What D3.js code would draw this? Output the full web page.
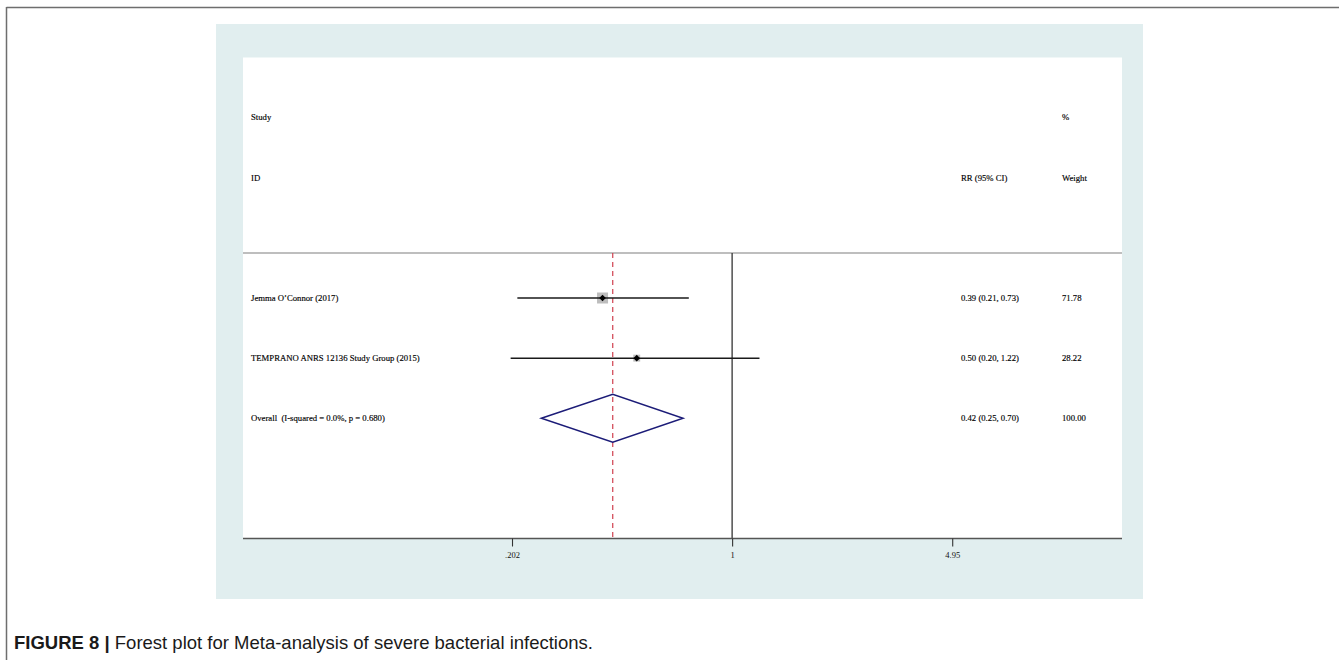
<!DOCTYPE html>
<html>
<head>
<meta charset="utf-8">
<script src="https://cdn.jsdelivr.net/npm/d3@7"></script>
<style>
  html, body { margin: 0; padding: 0; background: #fff; }
  svg { display: block; }
  text { white-space: pre; }
</style>
</head>
<body>
<svg id="chart" width="1339" height="660"></svg>
<script>
// Study rows of the forest plot
const studies = ["Jemma O\u2019Connor (2017)", "TEMPRANO ANRS 12136 Study Group (2015)"];
const rr = [0.39, 0.50];
const lower = [0.21, 0.20];
const upper = [0.73, 1.22];
const weights = [71.78, 28.22];

// Pooled estimate
const overallLabel = "Overall  (I-squared = 0.0%, p = 0.680)";
const overall = { rr: 0.42, lower: 0.25, upper: 0.70, weight: 100.00 };

// Axis ticks (log scale)
const tickValues = [0.202, 1, 4.95];
const tickLabels = [".202", "1", "4.95"];
const xDomain = [0.0286, 17.0];

const caption = "Forest plot for Meta-analysis of severe bacterial infections.";

const svg = d3.select("#chart");
const serif = "'Liberation Serif', 'Times New Roman', serif";

// page frame
svg.append("line").attr("x1", 6.5).attr("x2", 1339).attr("y1", 7.5).attr("y2", 7.5)
  .attr("stroke", "#6e6e6e").attr("stroke-width", 1.5);
svg.append("line").attr("x1", 6.5).attr("x2", 6.5).attr("y1", 7).attr("y2", 660)
  .attr("stroke", "#6e6e6e").attr("stroke-width", 1.5);

// graph region and plot region
const plotLeft = 243, plotRight = 1122;
const x = d3.scaleLog().domain(xDomain).range([plotLeft, plotRight]);
const y = d3.scaleLinear().domain([-1, 7]).range([57.5, 538.5]);

svg.append("rect").attr("x", 216).attr("y", 24).attr("width", 1143 - 216).attr("height", 599 - 24)
  .attr("fill", "#e1eeef");
svg.append("rect").attr("x", plotLeft).attr("y", y(-1)).attr("width", plotRight - plotLeft)
  .attr("height", y(7) - y(-1)).attr("fill", "#ffffff");

const colStudy = 251, colRR = 961, colW = 1062;
const fs = 8.7;

function txt(xp, yp, s, opts = {}) {
  return svg.append("text").attr("x", xp).attr("y", yp).attr("dy", "0.32em")
    .attr("font-family", serif).attr("font-size", opts.size || fs)
    .attr("font-weight", opts.weight || "normal")
    .attr("fill", "#000").attr("stroke", "#000").attr("stroke-width", 0.15)
    .attr("text-anchor", opts.anchor || "start").text(s);
}

// headers
txt(colStudy, y(0), "Study");
txt(colStudy, y(1), "ID");
txt(colRR, y(1), "RR (95% CI)");
txt(colW, y(0), "%");
txt(colW, y(1), "Weight");

// header separator
svg.append("line").attr("x1", plotLeft).attr("x2", plotRight).attr("y1", y(2.25)).attr("y2", y(2.25))
  .attr("stroke", "#a8a8a8").attr("stroke-width", 1.5);

// null line at RR = 1
svg.append("line").attr("x1", x(1)).attr("x2", x(1)).attr("y1", y(2.25)).attr("y2", y(7))
  .attr("stroke", "#333").attr("stroke-width", 1.3);

// pooled estimate line
svg.append("line").attr("x1", x(overall.rr)).attr("x2", x(overall.rr)).attr("y1", y(2.25)).attr("y2", y(7))
  .attr("stroke", "#d0404f").attr("stroke-width", 1.2).attr("stroke-dasharray", "5,4");

const fmt = d3.format(".2f");
const maxW = d3.max(weights);

studies.forEach((s, i) => {
  const yy = y(3 + i);
  txt(colStudy, yy, s);
  txt(colRR, yy, `${fmt(rr[i])} (${fmt(lower[i])}, ${fmt(upper[i])})`);
  txt(colW, yy, fmt(weights[i]));
  // weight box
  const side = 11 * Math.sqrt(weights[i] / maxW);
  svg.append("rect").attr("x", x(rr[i]) - side / 2).attr("y", yy - side / 2)
    .attr("width", side).attr("height", side).attr("fill", "#bdbdbd");
  // confidence interval
  svg.append("line").attr("x1", x(lower[i])).attr("x2", x(upper[i])).attr("y1", yy).attr("y2", yy)
    .attr("stroke", "#1a1a1a").attr("stroke-width", 1.5);
  // point estimate
  svg.append("path")
    .attr("d", d3.symbol(d3.symbolSquare, 22)())
    .attr("transform", `translate(${x(rr[i])},${yy}) rotate(45)`).attr("fill", "#000");
});

// overall row
const yo = y(5);
txt(colStudy, yo, overallLabel);
txt(colRR, yo, `${fmt(overall.rr)} (${fmt(overall.lower)}, ${fmt(overall.upper)})`);
txt(colW, yo, fmt(overall.weight));
const dh = 24;
svg.append("path")
  .attr("d", `M${x(overall.lower)},${yo} L${x(overall.rr)},${yo - dh} L${x(overall.upper)},${yo} L${x(overall.rr)},${yo + dh} Z`)
  .attr("fill", "none").attr("stroke", "#1c1c78").attr("stroke-width", 1.5);

// x axis
const axis = d3.axisBottom(x).tickValues(tickValues).tickSize(8).tickFormat((d, i) => tickLabels[i]);
const gAxis = svg.append("g").attr("transform", `translate(0,${y(7)})`).call(axis);
gAxis.select(".domain").attr("stroke", "#555").attr("stroke-width", 1.6)
  .attr("d", `M${plotLeft},0H${plotRight}`);
gAxis.selectAll(".tick line").attr("stroke", "#333").attr("stroke-width", 1.1);
gAxis.selectAll(".tick text").attr("font-family", serif).attr("font-size", 8.5)
  .attr("fill", "#111").attr("y", 13);

// caption
const cap = svg.append("text").attr("x", 14).attr("y", 649)
  .attr("font-family", "'Liberation Sans', Arial, sans-serif").attr("font-size", 18.5).attr("fill", "#1a1a1a");
cap.append("tspan").attr("font-weight", "bold").text("FIGURE 8");
cap.append("tspan").attr("font-weight", "bold").text(" | ");
cap.append("tspan").text(caption);
</script>
</body>
</html>
